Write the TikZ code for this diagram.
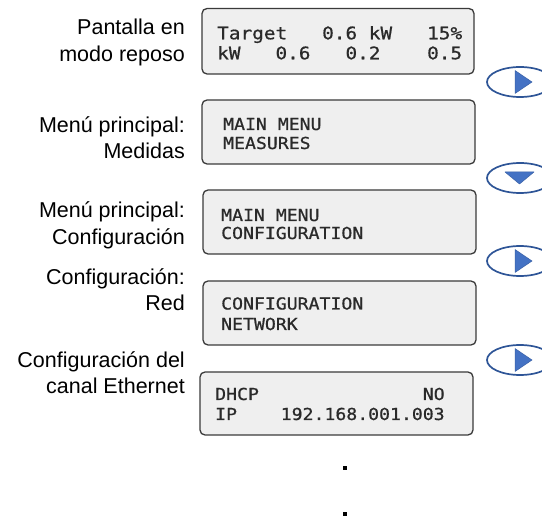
\documentclass[tikz,border=0pt]{standalone}
\usepackage{fontspec}
\setmainfont{Liberation Sans}
\newfontfamily\lcd[FakeStretch=1.10,FakeBold=0.8,WordSpace={1,0,0}]{DejaVu Sans Mono}
\newfontfamily\lcdw[FakeStretch=1.12,FakeBold=0.8,WordSpace={1,0,0}]{DejaVu Sans Mono}
\usetikzlibrary{shapes.geometric}
\definecolor{lcdfill}{HTML}{EFEFEF}
\definecolor{lcdline}{HTML}{3A3A3A}
\definecolor{lcdtext}{HTML}{2A2A2A}
\definecolor{btnline}{HTML}{2E5597}
\definecolor{btnfill}{HTML}{4472C4}
\tikzset{
  lcdbox/.style={draw=lcdline, fill=lcdfill, line width=1.3pt, rounded corners=5pt},
  lcdtxt/.style={anchor=base west, inner sep=0pt, text=lcdtext, font=\lcd\fontsize{16.5}{19}\selectfont},
  lcdtxtw/.style={anchor=base west, inner sep=0pt, text=lcdtext, font=\lcdw\fontsize{17.3}{20}\selectfont},
  lbl/.style={anchor=base east, inner sep=0pt, font=\fontsize{21.5}{27}\selectfont},
  btn/.style={draw=btnline, fill=white, line width=1.7pt, ellipse, minimum width=66pt, minimum height=30pt, inner sep=0pt},
  tri/.style={fill=btnfill, draw=btnfill!85!black, line width=0.5pt, line join=round},
  dotsq/.style={fill=black}
}
\begin{document}
\begin{tikzpicture}[x=1pt,y=-1pt]
\useasboundingbox (0,0) rectangle (542,516);
% labels
\node[lbl] (l1a) at (185,34.5) {Pantalla en};
\node[lbl] (l1b) at (185,61.5) {modo reposo};
\node[lbl] (l2a) at (185,132.5) {Menú principal:};
\node[lbl] (l2b) at (185,158.5) {Medidas};
\node[lbl] (l3a) at (185,217.5) {Menú principal:};
\node[lbl] (l3b) at (185,244.5) {Configuración};
\node[lbl] (l4a) at (185,284.5) {Configuración:};
\node[lbl] (l4b) at (185,310.5) {Red};
\node[lbl] (l5a) at (185,367.5) {Configuración del};
\node[lbl] (l5b) at (185,393.5) {canal Ethernet};
% boxes
\draw[lcdbox] (202,8.5) rectangle (474,74) node[coordinate] (d1) {};
\draw[lcdbox] (202,100) rectangle (475,164) node[coordinate] (d2) {};
\draw[lcdbox] (203,190) rectangle (476,254) node[coordinate] (d3) {};
\draw[lcdbox] (203,281) rectangle (476,345) node[coordinate] (d4) {};
\draw[lcdbox] (200,372) rectangle (473,435) node[coordinate] (d5) {};
% lcd text
\node[lcdtxtw] (t1a) at (217,39.3) {Target~~~0.6~kW~~~15\%};
\node[lcdtxtw] (t1b) at (217,59.3) {kW~~~0.6~~~0.2~~~~0.5};
\node[lcdtxt] (t2a) at (223,130) {MAIN MENU};
\node[lcdtxt] (t2b) at (223,149) {MEASURES};
\node[lcdtxt] (t3a) at (221,221) {MAIN MENU};
\node[lcdtxt] (t3b) at (221,239) {CONFIGURATION};
\node[lcdtxt] (t4a) at (221,309.5) {CONFIGURATION};
\node[lcdtxt] (t4b) at (221,330) {NETWORK};
\node[lcdtxt] (t5a) at (215,400) {DHCP~~~~~~~~~~~~~~~NO};
\node[lcdtxt] (t5b) at (215,420) {IP~~~~192.168.001.003};
% buttons
\node[btn] (b1) at (520,82) {};
\node[btn] (b2) at (520,178) {};
\node[btn] (b3) at (520,261) {};
\node[btn] (b4) at (520,360) {};
\draw[tri] (515,70.5) -- (532,82) -- (515,93.5) -- cycle;
\draw[tri] (505,172) -- (534,172) -- (519.5,184) -- cycle;
\draw[tri] (515,249.5) -- (532,261) -- (515,272.5) -- cycle;
\draw[tri] (515,348.5) -- (532,360) -- (515,371.5) -- cycle;
% dots
\fill[dotsq] (343,466) rectangle (347,470);
\fill[dotsq] (343,512) rectangle (347,516);
\end{tikzpicture}
\end{document}
